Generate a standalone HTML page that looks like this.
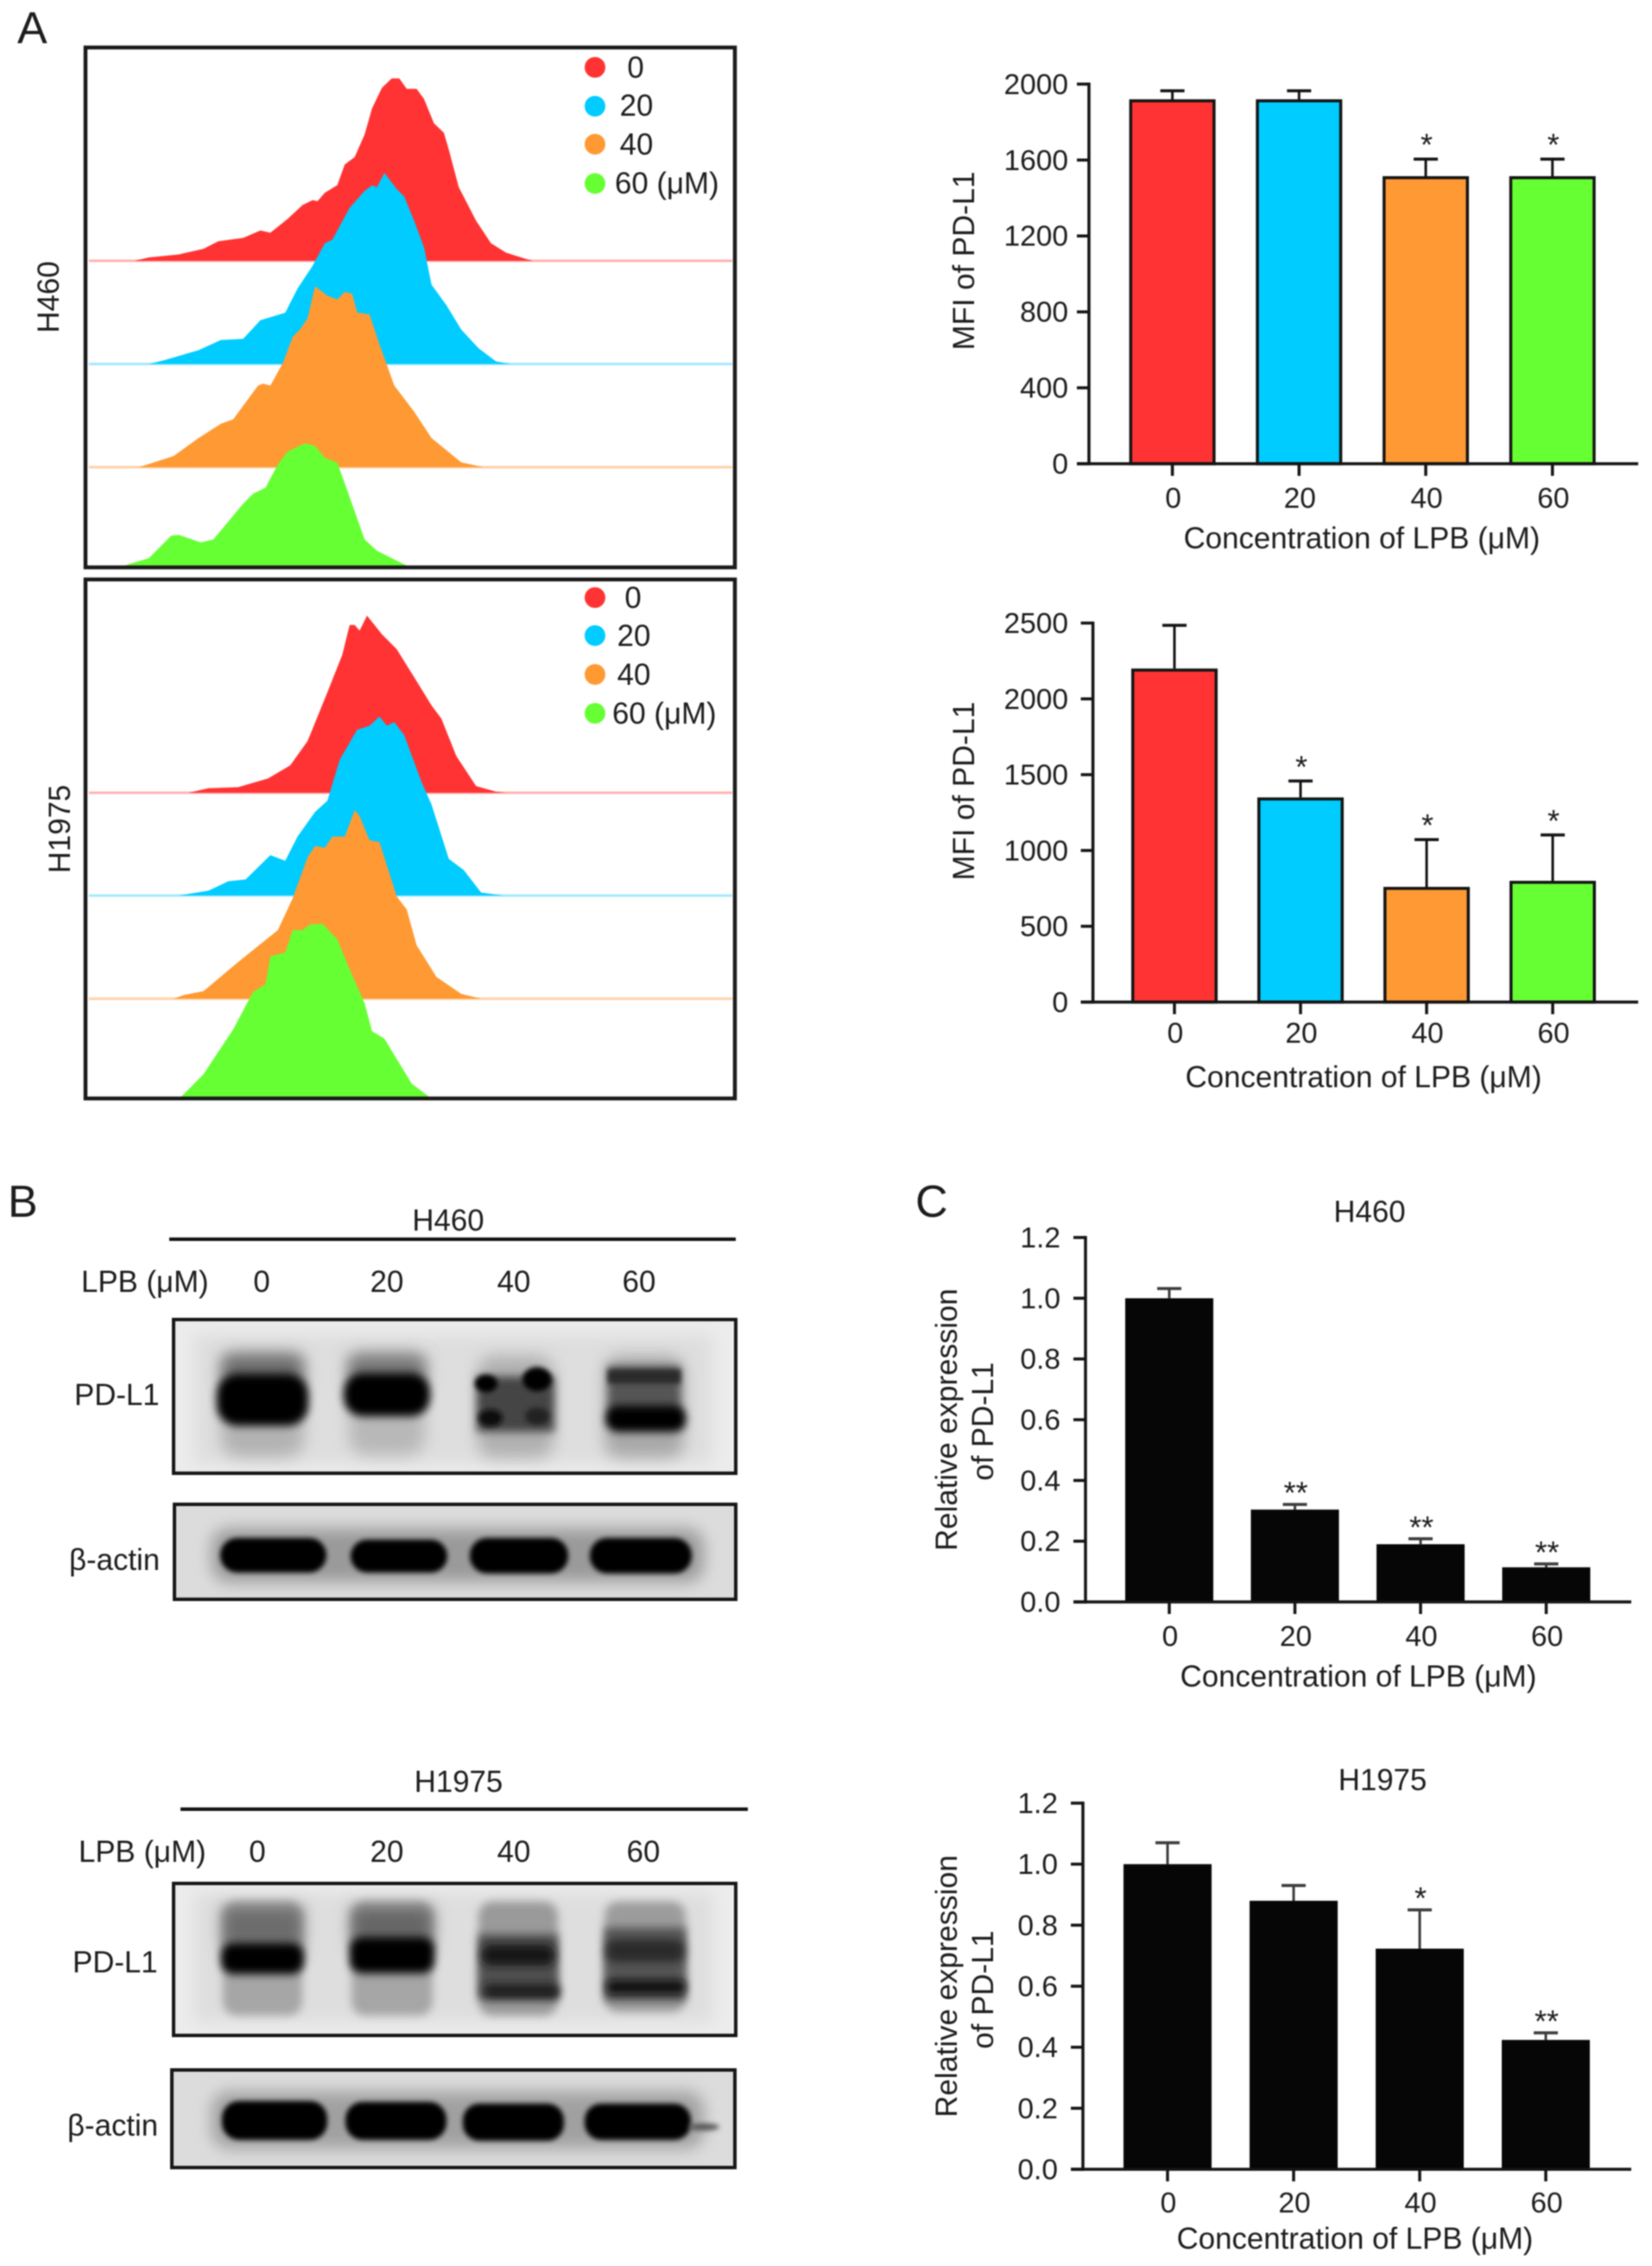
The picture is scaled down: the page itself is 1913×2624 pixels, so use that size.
<!DOCTYPE html>
<html lang="en">
<head>
<meta charset="utf-8">
<title>PD-L1 expression figure</title>
<style>
html,body{margin:0;padding:0;background:#fff;}
#figure{display:block;width:1913px;height:2624px;filter:blur(.7px);font-family:"Liberation Sans",sans-serif;fill:#1c1c1c;}
.t{font-size:34.8px;}
.m{text-anchor:middle;}
.letter{font-size:52px;}
</style>
</head>
<body>
<svg id="figure" xmlns="http://www.w3.org/2000/svg" width="1913" height="2624" viewBox="0 0 1913 2624">
<defs>
<filter id="b3" x="-100%" y="-100%" width="300%" height="300%"><feGaussianBlur stdDeviation="3"/></filter>
<filter id="b5" x="-100%" y="-100%" width="300%" height="300%"><feGaussianBlur stdDeviation="5"/></filter>
<filter id="b9" x="-100%" y="-100%" width="300%" height="300%"><feGaussianBlur stdDeviation="9"/></filter>
<clipPath id="clip1"><rect x="201" y="1528" width="651" height="178"/></clipPath>
<clipPath id="clip2"><rect x="202" y="1742" width="650" height="110"/></clipPath>
<clipPath id="clip3"><rect x="201" y="2181" width="651" height="176"/></clipPath>
<clipPath id="clip4"><rect x="199" y="2397" width="652" height="113"/></clipPath>
</defs>
<rect width="1913" height="2624" fill="#fff"/>

<!-- Panel letters -->
<text class="letter" x="20" y="50">A</text>
<text class="letter" x="9" y="1409">B</text>
<text class="letter" x="1060" y="1409">C</text>

<!-- Panel A histogram layers -->
<g id="hist1"></g>
<g id="hist2"></g>
<rect x="99" y="55" width="752" height="602" fill="none" stroke="#1a1a1a" stroke-width="4.5"/>
<rect x="99" y="671" width="752" height="601" fill="none" stroke="#1a1a1a" stroke-width="4.5"/>
<text class="t m" transform="translate(68,344) rotate(-90)">H460</text>
<text class="t m" transform="translate(81,960) rotate(-90)">H1975</text>

<g>
<circle cx="689" cy="78" r="12" fill="#ff3333"/>
<circle cx="689" cy="123" r="12" fill="#00ccff"/>
<circle cx="689" cy="167" r="12" fill="#ff9933"/>
<circle cx="689" cy="212.5" r="12" fill="#66ff33"/>
<text class="t m" x="736" y="90">0</text>
<text class="t m" x="737" y="134">20</text>
<text class="t m" x="737" y="179">40</text>
<text class="t" x="712" y="224">60 (μM)</text>
</g>
<g>
<circle cx="689" cy="692" r="12" fill="#ff3333"/>
<circle cx="689" cy="736" r="12" fill="#00ccff"/>
<circle cx="689" cy="781" r="12" fill="#ff9933"/>
<circle cx="689" cy="826" r="12" fill="#66ff33"/>
<text class="t m" x="733" y="704">0</text>
<text class="t m" x="734" y="748">20</text>
<text class="t m" x="734" y="793">40</text>
<text class="t" x="709" y="838">60 (μM)</text>
</g>

<!-- Panel A and C axis titles -->
<text class="t m" transform="translate(1128,302) rotate(-90)">MFI of PD-L1</text>
<text class="t m" x="1577" y="635">Concentration of LPB (μM)</text>
<text class="t m" transform="translate(1128,916) rotate(-90)">MFI of PD-L1</text>
<text class="t m" x="1579" y="1259">Concentration of LPB (μM)</text>

<text class="t m" x="1586" y="1415">H460</text>
<text class="t m" transform="translate(1108,1644) rotate(-90)">Relative expression</text>
<text class="t m" transform="translate(1150,1646) rotate(-90)">of PD-L1</text>
<text class="t m" x="1573" y="1953">Concentration of LPB (μM)</text>

<text class="t m" x="1601" y="2073">H1975</text>
<text class="t m" transform="translate(1108,2300) rotate(-90)">Relative expression</text>
<text class="t m" transform="translate(1150,2304) rotate(-90)">of PD-L1</text>
<text class="t m" x="1569" y="2604">Concentration of LPB (μM)</text>

<g id="charts"></g>

<!-- Panel B H460 western blot -->
<g>
<text class="t m" x="519" y="1425">H460</text>
<rect x="196" y="1433" width="656" height="4" fill="#111"/>
<text class="t" x="94" y="1496">LPB (μM)</text>
<text class="t m" x="303" y="1496">0</text>
<text class="t m" x="448" y="1496">20</text>
<text class="t m" x="595" y="1496">40</text>
<text class="t m" x="740" y="1496">60</text>
<text class="t" x="86" y="1627">PD-L1</text>
<text class="t" x="80" y="1818">β-actin</text>

<g clip-path="url(#clip1)">
<rect x="201" y="1528" width="651" height="178" fill="#ececec"/>
<rect x="225" y="1545" width="600" height="150" fill="#dedede" filter="url(#b9)"/>
<g>
<rect x="256" y="1565" width="96" height="122" rx="20" fill="#b2b2b2" filter="url(#b9)"/>
<rect x="258" y="1570" width="92" height="36" fill="#6a6a6a" filter="url(#b9)"/>
<rect x="251" y="1591" width="106" height="60" rx="24" fill="#000" filter="url(#b5)"/>
</g>
<g>
<rect x="404" y="1565" width="88" height="120" rx="20" fill="#b8b8b8" filter="url(#b9)"/>
<rect x="404" y="1570" width="88" height="32" fill="#747474" filter="url(#b9)"/>
<rect x="398" y="1590" width="100" height="50" rx="22" fill="#000" filter="url(#b5)"/>
</g>
<g>
<rect x="553" y="1570" width="88" height="118" rx="18" fill="#b0b0b0" filter="url(#b9)"/>
<rect x="552" y="1594" width="90" height="64" fill="#444" filter="url(#b5)"/>
<ellipse cx="563" cy="1602" rx="13" ry="10" fill="#000" filter="url(#b3)"/>
<ellipse cx="622" cy="1597" rx="17" ry="14" fill="#000" filter="url(#b3)"/>
<ellipse cx="568" cy="1642" rx="14" ry="10" fill="#111" filter="url(#b3)"/>
<ellipse cx="622" cy="1640" rx="14" ry="10" fill="#222" filter="url(#b3)"/>
</g>
<g>
<rect x="700" y="1570" width="92" height="118" rx="18" fill="#a8a8a8" filter="url(#b9)"/>
<rect x="704" y="1582" width="84" height="66" fill="#555" filter="url(#b5)"/>
<rect x="704" y="1586" width="84" height="16" fill="#2c2c2c" filter="url(#b3)"/>
<rect x="702" y="1628" width="92" height="30" rx="13" fill="#000" filter="url(#b5)"/>
</g>
</g>
<rect x="201" y="1528" width="651" height="178" fill="none" stroke="#161616" stroke-width="4"/>

<g clip-path="url(#clip2)">
<rect x="202" y="1742" width="650" height="110" fill="#dcdcdc"/>
<rect x="245" y="1770" width="570" height="62" rx="20" fill="#9a9a9a" filter="url(#b9)"/>
<rect x="255" y="1781" width="123" height="40" rx="20" fill="#000" filter="url(#b3)"/>
<rect x="406" y="1783" width="112" height="38" rx="19" fill="#000" filter="url(#b3)"/>
<rect x="544" y="1781" width="114" height="41" rx="20" fill="#000" filter="url(#b3)"/>
<rect x="683" y="1781" width="118" height="41" rx="20" fill="#000" filter="url(#b3)"/>
</g>
<rect x="202" y="1742" width="650" height="110" fill="none" stroke="#161616" stroke-width="4"/>
</g>

<!-- Panel B H1975 western blot -->
<g>
<text class="t m" x="531" y="2075">H1975</text>
<rect x="209" y="2093" width="657" height="4" fill="#111"/>
<text class="t" x="91" y="2156">LPB (μM)</text>
<text class="t m" x="298" y="2156">0</text>
<text class="t m" x="448" y="2156">20</text>
<text class="t m" x="595" y="2156">40</text>
<text class="t m" x="745" y="2156">60</text>
<text class="t" x="84" y="2284">PD-L1</text>
<text class="t" x="78" y="2473">β-actin</text>

<g clip-path="url(#clip3)">
<rect x="201" y="2181" width="651" height="176" fill="#ececec"/>
<rect x="225" y="2192" width="600" height="150" fill="#dedede" filter="url(#b9)"/>
<g>
<rect x="258" y="2202" width="92" height="132" rx="16" fill="#a6a6a6" filter="url(#b5)"/>
<rect x="258" y="2208" width="92" height="50" fill="#6c6c6c" filter="url(#b9)"/>
<rect x="256" y="2250" width="96" height="36" rx="14" fill="#000" filter="url(#b5)"/>
</g>
<g>
<rect x="407" y="2202" width="94" height="132" rx="16" fill="#a6a6a6" filter="url(#b5)"/>
<rect x="407" y="2208" width="94" height="46" fill="#666" filter="url(#b9)"/>
<rect x="405" y="2243" width="98" height="42" rx="14" fill="#000" filter="url(#b5)"/>
</g>
<g>
<rect x="554" y="2202" width="92" height="132" rx="16" fill="#9a9a9a" filter="url(#b5)"/>
<rect x="554" y="2240" width="92" height="75" fill="#505050" filter="url(#b5)"/>
<rect x="558" y="2252" width="84" height="24" rx="10" fill="#141414" filter="url(#b5)"/>
<rect x="560" y="2298" width="88" height="16" rx="7" fill="#1a1a1a" filter="url(#b5)"/>
</g>
<g>
<rect x="700" y="2202" width="94" height="128" rx="16" fill="#9c9c9c" filter="url(#b5)"/>
<rect x="700" y="2232" width="94" height="85" fill="#565656" filter="url(#b5)"/>
<rect x="702" y="2246" width="90" height="26" rx="10" fill="#2c2c2c" filter="url(#b5)"/>
<rect x="702" y="2293" width="92" height="16" rx="7" fill="#0e0e0e" filter="url(#b5)"/>
</g>
</g>
<rect x="201" y="2181" width="651" height="176" fill="none" stroke="#161616" stroke-width="4"/>

<g clip-path="url(#clip4)">
<rect x="199" y="2397" width="652" height="113" fill="#dcdcdc"/>
<rect x="245" y="2422" width="570" height="66" rx="20" fill="#a0a0a0" filter="url(#b9)"/>
<rect x="257" y="2433" width="122" height="45" rx="20" fill="#000" filter="url(#b3)"/>
<rect x="400" y="2434" width="117" height="44" rx="20" fill="#000" filter="url(#b3)"/>
<rect x="536" y="2436" width="117" height="43" rx="19" fill="#000" filter="url(#b3)"/>
<rect x="677" y="2436" width="123" height="42" rx="19" fill="#000" filter="url(#b3)"/>
<ellipse cx="815" cy="2463" rx="18" ry="4" fill="#555" filter="url(#b3)"/>
</g>
<rect x="199" y="2397" width="652" height="113" fill="none" stroke="#161616" stroke-width="4"/>
</g>
</svg>

<script>
// Shared categories
const categories = ['0', '20', '40', '60'];

// Panel A bar chart, H460
const a1Values = [1920, 1920, 1515, 1515];
const a1Errors = [45, 45, 90, 90];
const a1Stars = ['', '', '*', '*'];
const a1Ticks = [0, 400, 800, 1200, 1600, 2000];
const a1TickLabels = ['0', '400', '800', '1200', '1600', '2000'];

// Panel A bar chart, H1975
const a2Values = [2200, 1350, 760, 800];
const a2Errors = [285, 108, 312, 302];
const a2Stars = ['', '*', '*', '*'];
const a2Ticks = [0, 500, 1000, 1500, 2000, 2500];
const a2TickLabels = ['0', '500', '1000', '1500', '2000', '2500'];

// Panel C bar chart, H460
const c1Values = [1.0, 0.304, 0.19, 0.114];
const c1Errors = [0.032, 0.017, 0.018, 0.011];
const c1Stars = ['', '**', '**', '**'];
// Panel C bar chart, H1975
const c2Values = [1.0, 0.88, 0.723, 0.424];
const c2Errors = [0.07, 0.05, 0.127, 0.023];
const c2Stars = ['', '', '*', '**'];
const cTicks = [0, 0.2, 0.4, 0.6, 0.8, 1.0, 1.2];
const cTickLabels = ['0.0', '0.2', '0.4', '0.6', '0.8', '1.0', '1.2'];

// Histogram readings: fluorescence channel and event counts for each treatment
const h460Channel0 = [98,128,188,238,268,318,353,373,408,438,458,468,483,508,523,543,563,578,598,618,633,648,668,683,703,723,733,753,788,818,848,888,903];
const h460Counts0 = [0,9,17,32,52,61,81,75,112,149,162,159,182,202,257,277,337,407,462,487,487,459,459,432,367,342,297,197,107,47,22,5,0];
const h460Channel20 = [128,158,228,273,318,353,403,428,458,483,498,533,563,578,588,603,628,643,663,683,698,728,758,793,828,858];
const h460Counts20 = [0,10,37,64,67,117,137,202,262,322,332,417,462,477,472,510,467,447,382,312,212,157,92,42,7,0];
const h460Channel40 = [108,178,228,273,298,348,358,373,398,418,433,448,463,488,508,523,538,548,573,593,623,663,698,758,803];
const h460Counts40 = [0,30,78,116,128,218,223,218,278,348,368,398,483,458,448,468,463,413,408,328,218,148,78,13,0];
const h460Channel60 = [78,128,173,188,233,258,318,338,363,388,408,443,463,483,508,523,563,588,648];
const h460Counts60 = [0,20,80,82,62,70,165,192,208,270,305,327,320,288,275,220,70,40,0];

const h1975Channel0 = [208,248,308,368,413,448,488,518,533,543,553,568,598,628,668,698,718,748,788,828,848];
const h1975Counts0 = [0,12,15,38,73,138,268,368,448,448,433,473,423,383,298,233,198,98,18,3,0];
const h1975Channel20 = [188,248,288,323,373,403,428,463,488,513,548,573,593,608,623,643,678,698,733,763,798,843];
const h1975Counts20 = [0,13,38,43,108,93,158,223,253,363,443,453,478,453,463,428,303,243,98,68,8,0];
const h1975Channel40 = [178,198,238,308,388,418,448,463,483,498,523,543,553,573,593,628,648,668,708,758,798];
const h1975Counts40 = [0,10,20,98,183,268,378,408,403,433,433,503,488,423,418,273,238,143,58,13,0];
const h1975Channel60 = [193,238,298,338,363,373,403,418,438,453,478,508,533,563,578,603,658,693];
const h1975Counts60 = [0,60,180,280,300,375,385,445,445,460,462,420,340,250,175,155,35,0];

const NS = 'http://www.w3.org/2000/svg';
const seriesFills = ['#ff3333', '#00ccff', '#ff9933', '#66ff33'];
const baselineStrokes = ['#ffb3b3', '#a6e9ff', '#ffd2a8', 'none'];

function mk(tag, attrs, parent) {
  const el = document.createElementNS(NS, tag);
  for (const k in attrs) el.setAttribute(k, attrs[k]);
  parent.appendChild(el);
  return el;
}

// Histogram axis: channel 0..1310 spans the frame; counts scale is shared
function channelToX(ch) { return 99 + ch * 0.574; }
function countToHeight(c) { return c * 0.4337; }

function drawHistogram(groupId, prefix, channels, counts, baselines) {
  const group = document.getElementById(groupId);
  channels.forEach(function (chs, i) {
    const base = baselines[i];
    if (baselineStrokes[i] !== 'none') {
      const rule = mk('line', {x1: 103, x2: 848, y1: base, y2: base, stroke: baselineStrokes[i], 'stroke-width': 3}, group);
      
      
    }
    const pts = chs.map(function (ch, j) {
      return channelToX(ch).toFixed(1) + ',' + (base - countToHeight(counts[i][j])).toFixed(1);
    }).join(' ');
    const area = mk('polygon', {points: pts, fill: seriesFills[i]}, group);
    
    
  });
}

drawHistogram('hist1', 'h460',
  [h460Channel0, h460Channel20, h460Channel40, h460Channel60],
  [h460Counts0, h460Counts20, h460Counts40, h460Counts60],
  [302, 421.5, 541, 655]);
drawHistogram('hist2', 'h1975',
  [h1975Channel0, h1975Channel20, h1975Channel40, h1975Channel60],
  [h1975Counts0, h1975Counts20, h1975Counts40, h1975Counts60],
  [918, 1037, 1156.5, 1270]);

function drawBarChart(cfg) {
  const root = document.getElementById('charts');
  const g = mk('g', {}, root);
  
  
  const yScale = function (v) { return cfg.base - (v / cfg.max) * (cfg.base - cfg.top); };
  const xScale = function (i) { return cfg.first + i * cfg.step; };
  const ink = '#141414';

  cfg.values.forEach(function (v, i) {
    const cx = xScale(i);
    const yTop = yScale(v);
    const yCap = yScale(v + cfg.errors[i]);
    const errLine = mk('line', {x1: cx, x2: cx, y1: yTop, y2: yCap, stroke: cfg.errColor, 'stroke-width': 3}, g);
    
    
    const cap = mk('line', {x1: cx - 14, x2: cx + 14, y1: yCap, y2: yCap, stroke: cfg.errColor, 'stroke-width': 3.5}, g);
    
    
    const inset = cfg.outlined ? 1.75 : 0;
    const bar = mk('rect', {
      x: cx - cfg.half + inset,
      y: yTop + inset,
      width: 2 * cfg.half - 2 * inset,
      height: cfg.base - yTop - inset,
      fill: cfg.fills ? cfg.fills[i] : '#060606',
      stroke: cfg.outlined ? ink : 'none',
      'stroke-width': cfg.outlined ? 3.5 : 0
    }, g);
    
    
    if (cfg.stars[i]) {
      const star = mk('text', {x: cx + 1, y: yCap - cfg.starGap, 'text-anchor': 'middle', 'font-size': 36}, g);
      star.textContent = cfg.stars[i];
      
      
    }
    const xt = mk('line', {x1: cx, x2: cx, y1: cfg.base, y2: cfg.base + 14, stroke: ink, 'stroke-width': 3.5}, g);
    
    
    const xl = mk('text', {x: cx + 1, y: cfg.xLabelY, 'text-anchor': 'middle', 'font-size': 33.5}, g);
    xl.textContent = categories[i];
    
    
  });

  cfg.ticks.forEach(function (t, i) {
    const y = yScale(t);
    const yt = mk('line', {x1: cfg.axisX - 14, x2: cfg.axisX, y1: y, y2: y, stroke: ink, 'stroke-width': 3.5}, g);
    
    
    const yl = mk('text', {x: cfg.labelRight, y: y + 11.5, 'text-anchor': 'end', 'font-size': 33.5}, g);
    yl.textContent = cfg.tickLabels[i];
    
    
  });

  const yAxis = mk('line', {x1: cfg.axisX, x2: cfg.axisX, y1: cfg.top - 1.75, y2: cfg.base + 1.75, stroke: ink, 'stroke-width': 3.5}, g);
  
  
  const xAxis = mk('line', {x1: cfg.axisX - 14, x2: cfg.xEnd, y1: cfg.base, y2: cfg.base, stroke: ink, 'stroke-width': 3.5}, g);
  
  
}

drawBarChart({name: 'a1', values: a1Values, errors: a1Errors, stars: a1Stars, ticks: a1Ticks, tickLabels: a1TickLabels, max: 2000,
  top: 97.4, base: 537, axisX: 1261, xEnd: 1897, labelRight: 1237, xLabelY: 588, first: 1357.6, step: 146.7, half: 50,
  fills: seriesFills, outlined: true, errColor: '#141414', starGap: 4});
drawBarChart({name: 'a2', values: a2Values, errors: a2Errors, stars: a2Stars, ticks: a2Ticks, tickLabels: a2TickLabels, max: 2500,
  top: 721.5, base: 1160.4, axisX: 1265.6, xEnd: 1897, labelRight: 1237, xLabelY: 1207.5, first: 1360, step: 146, half: 50,
  fills: seriesFills, outlined: true, errColor: '#141414', starGap: 4});
drawBarChart({name: 'c1', values: c1Values, errors: c1Errors, stars: c1Stars, ticks: cTicks, tickLabels: cTickLabels, max: 1.2,
  top: 1433, base: 1855, axisX: 1257, xEnd: 1889, labelRight: 1228, xLabelY: 1906, first: 1354, step: 145.5, half: 51,
  fills: null, outlined: false, errColor: '#3c3c3c', starGap: 1});
drawBarChart({name: 'c2', values: c2Values, errors: c2Errors, stars: c2Stars, ticks: cTicks, tickLabels: cTickLabels, max: 1.2,
  top: 2088, base: 2512, axisX: 1254, xEnd: 1889, labelRight: 1225, xLabelY: 2562, first: 1352, step: 146, half: 51,
  fills: null, outlined: false, errColor: '#3c3c3c', starGap: 1});
</script>
</body>
</html>
